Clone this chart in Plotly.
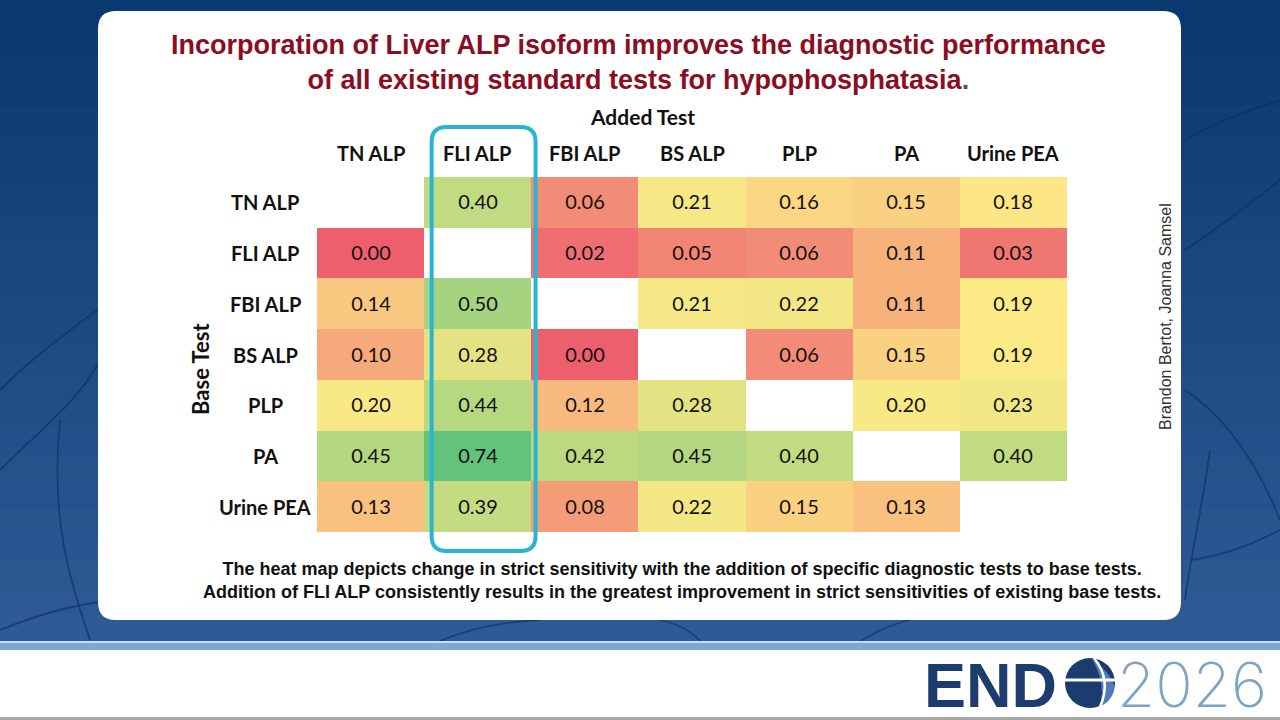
import plotly.graph_objects as go

# ---------------- data ----------------
added_tests = ["TN ALP", "FLI ALP", "FBI ALP", "BS ALP", "PLP", "PA", "Urine PEA"]
base_tests = ["TN ALP", "FLI ALP", "FBI ALP", "BS ALP", "PLP", "PA", "Urine PEA"]

row_tn_alp = [None, 0.40, 0.06, 0.21, 0.16, 0.15, 0.18]
row_fli_alp = [0.00, None, 0.02, 0.05, 0.06, 0.11, 0.03]
row_fbi_alp = [0.14, 0.50, None, 0.21, 0.22, 0.11, 0.19]
row_bs_alp = [0.10, 0.28, 0.00, None, 0.06, 0.15, 0.19]
row_plp = [0.20, 0.44, 0.12, 0.28, None, 0.20, 0.23]
row_pa = [0.45, 0.74, 0.42, 0.45, 0.40, None, 0.40]
row_urine_pea = [0.13, 0.39, 0.08, 0.22, 0.15, 0.13, None]

z = [row_tn_alp, row_fli_alp, row_fbi_alp, row_bs_alp, row_plp, row_pa, row_urine_pea]
highlight_test = "FLI ALP"

title_text = ("Incorporation of Liver ALP isoform improves the diagnostic performance<br>"
              "of all existing standard tests for hypophosphatasia<span style='color:#555'>.</span>")
caption_text = ("The heat map depicts change in strict sensitivity with the addition of specific diagnostic tests to base tests.<br>"
                "Addition of FLI ALP consistently results in the greatest improvement in strict sensitivities of existing base tests.")
credit_text = "Brandon Bertot, Joanna Samsel"

# ---------------- helpers ----------------
W, H = 1280, 720


def px(x):
    return x / W


def py(y):
    return 1 - y / H


def rounded_path(x0, y0, x1, y1, rx, ry):
    return (f"M {x0+rx},{y0} L {x1-rx},{y0} Q {x1},{y0} {x1},{y0+ry} "
            f"L {x1},{y1-ry} Q {x1},{y1} {x1-rx},{y1} L {x0+rx},{y1} "
            f"Q {x0},{y1} {x0},{y1-ry} L {x0},{y0+ry} Q {x0},{y0} {x0+rx},{y0} Z")


text = [["" if v is None else f"{v:.2f}" for v in row] for row in z]
flat = sorted(v for row in z for v in row if v is not None)
n = len(flat)
median = (flat[n // 2 - 1] + flat[n // 2]) / 2 if n % 2 == 0 else flat[n // 2]
zmax = max(flat)
zmin = min(flat)
mid = (median - zmin) / (zmax - zmin)

fig = go.Figure()
fig.add_trace(go.Heatmap(
    z=z, x=added_tests, y=base_tests, text=text, texttemplate="%{text}",
    textfont=dict(family="Lato", size=20, color="#111111"),
    colorscale=[[0, "#EE5F6E"], [mid, "#FDEA86"], [1, "#63C27B"]],
    zmin=zmin, zmax=zmax, showscale=False, hoverinfo="skip", xgap=0, ygap=0,
))

shapes = []
# background gradient bands
top_c = (10, 57, 113)
bot_c = (46, 91, 149)
nb = 24
for i in range(nb):
    t = i / (nb - 1)
    c = tuple(int(top_c[k] + (bot_c[k] - top_c[k]) * t) for k in range(3))
    y0 = 641 * i / nb
    y1 = 641 * (i + 1) / nb + 1
    shapes.append(dict(type="rect", xref="paper", yref="paper", x0=0, x1=1,
                       y0=py(y1), y1=py(y0), fillcolor=f"rgb{c}", line_width=0, layer="below"))

# faint network lines
net_color = "rgba(12,45,100,0.6)"
paths = [
    [(0, 390), (60, 330), (120, 300), (170, 250)],
    [(0, 470), (40, 430), (80, 400), (100, 360)],
    [(60, 420), (50, 520), (70, 580), (90, 640)],
    [(0, 630), (50, 610), (100, 598), (140, 600)],
    [(1185, 140), (1220, 120), (1250, 110), (1280, 100)],
    [(1185, 250), (1230, 220), (1255, 200), (1280, 180)],
    [(1185, 390), (1230, 420), (1260, 470), (1280, 520)],
    [(1210, 450), (1200, 520), (1190, 560), (1185, 600)],
    [(440, 641), (470, 628), (500, 622), (540, 620)],
    [(700, 641), (690, 630), (680, 625), (660, 620)],
    [(860, 641), (880, 630), (890, 625), (910, 620)],
    [(1190, 560), (1230, 555), (1260, 540), (1280, 530)],
]
for p in paths:
    (a, b, c, d) = p
    path = (f"M {px(a[0])},{py(a[1])} C {px(b[0])},{py(b[1])} "
            f"{px(c[0])},{py(c[1])} {px(d[0])},{py(d[1])}")
    shapes.append(dict(type="path", xref="paper", yref="paper", path=path,
                       line=dict(color=net_color, width=1.8), layer="below"))

# white card
shapes.append(dict(type="path", xref="paper", yref="paper",
                   path=rounded_path(px(98), py(620), px(1181), py(11), px(18), 18 / H),
                   fillcolor="white", line_width=0, layer="below"))

# footer
shapes.append(dict(type="rect", xref="paper", yref="paper", x0=0, x1=1, y0=py(650), y1=py(641),
                   fillcolor="#7EA8D4", line_width=0, layer="below"))
shapes.append(dict(type="rect", xref="paper", yref="paper", x0=0, x1=1, y0=py(643), y1=py(641),
                   fillcolor="#C9DDF0", line_width=0, layer="below"))
shapes.append(dict(type="rect", xref="paper", yref="paper", x0=0, x1=1, y0=py(717), y1=py(650),
                   fillcolor="white", line_width=0, layer="below"))
shapes.append(dict(type="rect", xref="paper", yref="paper", x0=0, x1=1, y0=0, y1=py(717),
                   fillcolor="#A8A8A8", line_width=0, layer="below"))

# globe of the logo
gcx, gcy, gr = 1090, 683, 25
shapes.append(dict(type="circle", xref="paper", yref="paper",
                   x0=px(gcx - gr), x1=px(gcx + gr), y0=py(gcy + gr), y1=py(gcy - gr),
                   fillcolor="#1C3C6E", line_width=0, layer="above"))
shapes.append(dict(type="path", xref="paper", yref="paper",
                   path=(f"M {px(gcx+2)},{py(gcy-24)} Q {px(gcx+26)},{py(gcy-6)} {px(gcx+24)},{py(gcy+8)} "
                         f"Q {px(gcx+20)},{py(gcy+20)} {px(gcx+10)},{py(gcy+23)} "
                         f"Q {px(gcx+16)},{py(gcy)} {px(gcx+2)},{py(gcy-24)} Z"),
                   fillcolor="#4F7DB5", line_width=0, layer="above"))
shapes.append(dict(type="line", xref="paper", yref="paper",
                   x0=px(gcx - 25), x1=px(gcx + 25), y0=py(gcy - 3), y1=py(gcy - 3),
                   line=dict(color="white", width=3), layer="above"))
shapes.append(dict(type="path", xref="paper", yref="paper",
                   path=(f"M {px(gcx+4)},{py(gcy-25)} Q {px(gcx+22)},{py(gcy-3)} {px(gcx+10)},{py(gcy+24)}"),
                   line=dict(color="white", width=2.5), layer="above"))

# highlight outline around the FLI ALP column
hi = added_tests.index(highlight_test)
hx0, hx1 = hi - 0.43, hi + 0.54
hy0, hy1 = py(551), py(127)
shapes.append(dict(type="path", xref="x", yref="paper",
                   path=rounded_path(hx0, hy0, hx1, hy1, 0.14, 15 / H),
                   line=dict(color="#2AB4D4", width=4), fillcolor="rgba(0,0,0,0)", layer="above"))

annotations = []
lab_font = dict(family="Lato", size=20, color="#111111")
for t in added_tests:
    annotations.append(dict(x=t, xref="x", y=py(153), yref="paper", text=f"<b>{t}</b>",
                            showarrow=False, font=lab_font, xanchor="center", yanchor="middle"))
for t in base_tests:
    annotations.append(dict(x=px(265), xref="paper", y=t, yref="y", text=f"<b>{t}</b>",
                            showarrow=False, font=lab_font, xanchor="center", yanchor="middle"))


def ann(x, y, text, font, **kw):
    d = dict(x=px(x), y=py(y), xref="paper", yref="paper", text=text, showarrow=False,
             font=font, xanchor="center", yanchor="middle")
    d.update(kw)
    return d


annotations += [
    ann(642, 117, "<b>Added Test</b>", dict(family="Lato", size=21, color="#111111")),
    ann(201, 369, "<b>Base Test</b>", dict(family="Lato", size=22, color="#111111"), textangle=-90),
    ann(638, 62, f"<b>{title_text}</b>", dict(family="Liberation Sans", size=27, color="#8B0D23"), align="center"),
    ann(682, 580, f"<b>{caption_text}</b>", dict(family="Liberation Sans", size=18, color="#111111"), align="center"),
    ann(1165, 317, credit_text, dict(family="Liberation Sans", size=16, color="#333333"), textangle=-90),
    ann(1059, 685, "<b>END</b>", dict(family="Liberation Sans", size=63, color="#1C3C6E"), xanchor="right"),
    ann(1116, 684, "2026", dict(family="Inter", size=62, color="#7DA4C6", weight=200), xanchor="left",
        borderpad=0),
]

fig.update_layout(
    width=W, height=H, autosize=False,
    margin=dict(l=0, r=0, t=0, b=0, pad=0),
    paper_bgcolor="#0A3971", plot_bgcolor="rgba(0,0,0,0)",
    xaxis=dict(domain=[px(317), px(1067)], showticklabels=False, showgrid=False, zeroline=False,
               showline=False, fixedrange=True),
    yaxis=dict(domain=[py(532), py(177)], autorange="reversed", showticklabels=False, showgrid=False,
               zeroline=False, showline=False, fixedrange=True),
    shapes=shapes, annotations=annotations, showlegend=False,
)

fig.write_html("out.html", config={"displayModeBar": False},
               post_script="document.body.style.margin='0';document.body.style.overflow='hidden';")
